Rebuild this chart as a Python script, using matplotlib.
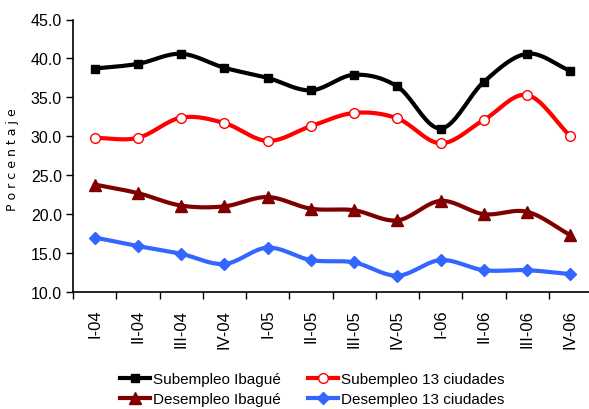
import numpy as np
import matplotlib
matplotlib.use("Agg")
import matplotlib.pyplot as plt

trimestres = ["I-04", "II-04", "III-04", "IV-04", "I-05", "II-05", "III-05",
              "IV-05", "I-06", "II-06", "III-06", "IV-06"]
sub_ibague = [38.7, 39.3, 40.6, 38.8, 37.5, 35.9, 37.9, 36.4, 31.0, 37.0, 40.6, 38.4]
sub_13 = [29.8, 29.8, 32.4, 31.7, 29.4, 31.3, 33.0, 32.3, 29.1, 32.1, 35.3, 30.0]
des_ibague = [23.8, 22.7, 21.1, 21.0, 22.2, 20.7, 20.5, 19.2, 21.7, 20.0, 20.3, 17.3]
des_13 = [17.0, 15.9, 14.9, 13.6, 15.7, 14.1, 13.8, 12.1, 14.1, 12.8, 12.8, 12.3]

plt.rcParams['font.family'] = ['Liberation Sans', 'DejaVu Sans']


def suave(y, n=20):
    # curva tipo Catmull-Rom, como la linea suavizada de Excel
    y = np.asarray(y, float)
    x = np.arange(len(y), dtype=float)
    px = np.concatenate([[2 * x[0] - x[1]], x, [2 * x[-1] - x[-2]]])
    py = np.concatenate([[2 * y[0] - y[1]], y, [2 * y[-1] - y[-2]]])
    xs, ys = [], []
    t = np.linspace(0, 1, n, endpoint=False)
    for i in range(1, len(px) - 2):
        for p, out in ((px, xs), (py, ys)):
            p0, p1, p2, p3 = p[i - 1], p[i], p[i + 1], p[i + 2]
            out.extend(0.5 * (2 * p1 + (-p0 + p2) * t + (2 * p0 - 5 * p1 + 4 * p2 - p3) * t ** 2
                              + (-p0 + 3 * p1 - 3 * p2 + p3) * t ** 3))
    xs.append(x[-1]); ys.append(y[-1])
    return np.array(xs), np.array(ys)


fig = plt.figure(figsize=(5.89, 4.10), dpi=100)
ax = fig.add_axes([73 / 589, 117 / 410, 519 / 589, 272.5 / 410])

series = [
    (sub_ibague, "Subempleo Ibagué", "black", dict(marker="s", ms=6, mfc="black", mec="black")),
    (sub_13, "Subempleo 13 ciudades", "#FF0000", dict(marker="o", ms=7, mfc="white", mec="#FF0000", mew=1)),
    (des_ibague, "Desempleo Ibagué", "#800000", dict(marker="^", ms=8, mfc="#800000", mec="#800000")),
    (des_13, "Desempleo 13 ciudades", "#3366FF", dict(marker="D", ms=6, mfc="#3366FF", mec="#3366FF")),
]
x = np.arange(len(trimestres))
handles = {}
for vals, lab, col, mk in series:
    sx, sy = suave(vals)
    ax.plot(sx, sy, color=col, lw=3, solid_capstyle="round", zorder=2)
    ax.plot(x, vals, ls="none", zorder=3, **mk)
    handles[lab] = plt.Line2D([], [], color=col, lw=3, **mk)

ax.set_xlim(-0.5, 11.5)
ax.set_ylim(10, 45)
ax.set_yticks(np.arange(10, 46, 5))
ax.set_yticklabels([f"{v:.1f}" for v in np.arange(10, 46, 5)], fontsize=11.5)
ax.set_xticks(x)
ax.set_xticklabels(trimestres, rotation=90, fontsize=12)
ax.set_xticks(np.arange(-0.5, 12, 1), minor=True)
ax.tick_params(axis="x", which="major", length=0, pad=12)
ax.tick_params(axis="x", which="minor", length=5, width=1)
ax.tick_params(axis="y", length=5, width=1, pad=3)
for s in ("top", "right"):
    ax.spines[s].set_visible(False)
ax.spines["left"].set_linewidth(1.2)
ax.spines["bottom"].set_linewidth(1.2)

fig.text(13 / 589, 250 / 410, "P o r c e n t a j e", rotation=90, ha="center", va="center",
         fontsize=9, family="DejaVu Sans")

orden = ["Subempleo Ibagué", "Desempleo Ibagué", "Subempleo 13 ciudades", "Desempleo 13 ciudades"]
fig.legend([handles[k] for k in orden], orden, ncol=2, frameon=False, fontsize=11,
           loc="center", bbox_to_anchor=(312 / 589, 20 / 410), handlelength=2.0,
           handletextpad=0.15, columnspacing=1.8, labelspacing=0.4)

fig.savefig("out.png", dpi=100)
